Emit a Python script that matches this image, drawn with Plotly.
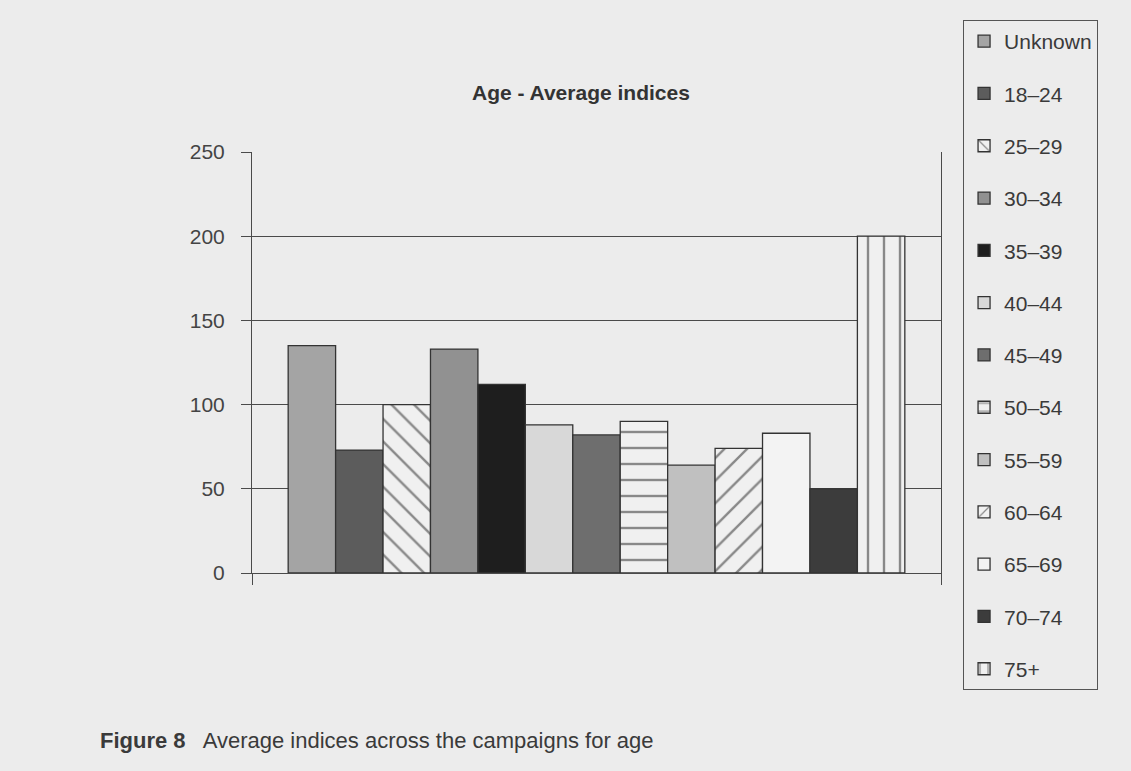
import plotly.graph_objects as go

categories = ["Unknown", "18–24", "25–29", "30–34", "35–39", "40–44", "45–49",
              "50–54", "55–59", "60–64", "65–69", "70–74", "75+"]
values = [135, 73, 100, 133, 112, 88, 82, 90, 64, 74, 83, 50, 200]
fills = ["#a4a4a4", "#5c5c5c", "#f0f0f0", "#919191", "#1e1e1e", "#d8d8d8", "#6e6e6e",
         "#f0f0f0", "#c0c0c0", "#f0f0f0", "#f3f3f3", "#3c3c3c", "#f0f0f0"]
patterns = ["", "", "\\", "", "", "", "", "-", "", "/", "", "", "|"]
y_ticks = [0, 50, 100, 150, 200, 250]
title_text = "<b>Age - Average indices</b>"
caption_text = "<b>Figure 8</b>   Average indices across the campaigns for age"

BG = "#ececec"
LINE = "#4a4a4a"
FONT = "Liberation Sans, Arial, sans-serif"

fig = go.Figure()
for i, (cat, val, col, pat) in enumerate(zip(categories, values, fills, patterns)):
    marker = dict(color=col, line=dict(color="#333333", width=1.3))
    if pat:
        marker["pattern"] = dict(shape=pat, fgcolor="#222222", bgcolor=col,
                                 size=16, solidity=0.15, fillmode="overlay")
    fig.add_trace(go.Bar(x=["Age"], y=[val], name=cat, marker=marker,
                         legendgroup=f"g{i}"))

fig.update_layout(
    width=1131, height=771,
    paper_bgcolor=BG, plot_bgcolor=BG,
    margin=dict(l=252, r=190, t=152, b=198),
    barmode="group", bargap=0.105, bargroupgap=0,
    font=dict(family=FONT, color="#3a3a3a", size=21),
    showlegend=True,
    legend=dict(
        x=1.032, xanchor="left", y=1.3135, yanchor="top",
        bgcolor=BG, bordercolor="#555555", borderwidth=1,
        font=dict(family=FONT, size=21, color="#3a3a3a"),
        tracegroupgap=22, itemwidth=30, traceorder="grouped",
        maxheight=740,
    ),
    xaxis=dict(
        showticklabels=False, showgrid=False, zeroline=False,
        showline=True, linecolor=LINE, linewidth=1,
        ticks="outside", tickson="boundaries", ticklen=11, tickcolor=LINE,
        range=[-0.5, 0.5],
    ),
    yaxis=dict(
        range=[0, 250], tickvals=y_ticks, showgrid=True, gridcolor=LINE, gridwidth=1,
        zeroline=False, showline=True, mirror=True, linecolor=LINE, linewidth=1,
        ticks="outside", ticklen=10, tickcolor=LINE,
        tickfont=dict(size=21, color="#444444", family=FONT),
        ticklabelstandoff=12,
    ),
    annotations=[
        dict(text=title_text, x=0.4775, y=1.142, xref="paper", yref="paper",
             xanchor="center", yanchor="middle", showarrow=False,
             font=dict(size=21, color="#333333", family=FONT)),
        dict(text=caption_text, x=-0.2235, y=-0.397, xref="paper", yref="paper",
             xanchor="left", yanchor="middle", showarrow=False,
             font=dict(size=22, color="#3a3a3a", family=FONT)),
    ],
)

fig.write_html(
    "out.html",
    config={"displayModeBar": False},
    post_script="document.body.style.margin='0';document.body.style.background='#ececec';"
                "document.body.style.overflow='hidden';",
)
